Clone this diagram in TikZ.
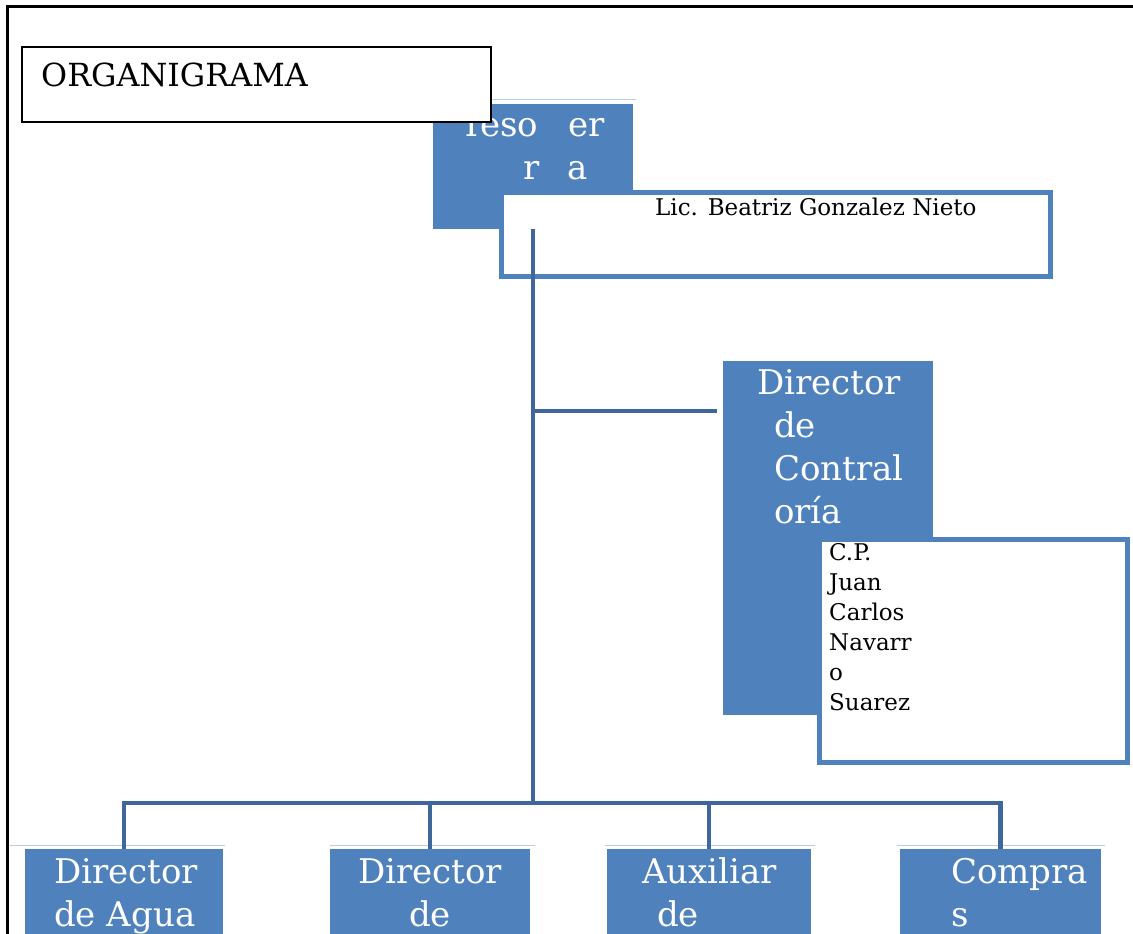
\documentclass[tikz,border=0pt]{standalone}
\usepackage{fontspec}
\setmainfont{DejaVu Serif}
\usetikzlibrary{positioning}
\definecolor{officeblue}{HTML}{4F81BD}
\definecolor{linkblue}{HTML}{3F679B}
\definecolor{rimblue}{HTML}{B8CCE4}
\begin{document}
\begin{tikzpicture}[x=1pt, y=-1pt,
  unit/.style={fill=officeblue, inner sep=0pt, anchor=north west},
  holder/.style={draw=officeblue, line width=4.5pt, fill=white, inner sep=0pt, anchor=north west},
  unitname/.style={text=white, inner sep=0pt, anchor=base west, align=left, font=\fontsize{34}{43}\selectfont},
  person/.style={inner sep=0pt, anchor=base west, align=left, font=\fontsize{23}{30}\selectfont},
  link/.style={draw=linkblue, line width=4.5pt},
  rim/.style={draw=rimblue, line width=1pt},
]
\useasboundingbox (0,0) rectangle (1133,934);
\clip (0,0) rectangle (1133,934);
\draw[line width=3pt] (7,7) rectangle (1150,950);

% tesoreria
\node[unit, minimum width=200pt, minimum height=125pt] (tes) at (433,104) {};
\draw[rim] ([yshift=5pt]tes.north west) -- ([yshift=5pt,xshift=3pt]tes.north east);
\node[unitname] (testext) at (460,179) {Teso\hspace{30pt}er\\\hspace*{63pt}r\hspace{28pt}a};
\node[holder, minimum width=549pt, minimum height=84pt] (lic) at (499,190) {};
\node[person] (lictext) at (655,215) {Lic. Beatriz Gonzalez Nieto};

% titulo
\node[draw, line width=2pt, fill=white, inner sep=0pt, anchor=north west, minimum width=469pt, minimum height=75pt] (title) at (21,46) {};
\node[inner sep=0pt, anchor=base west, font=\fontsize{31.8}{40}\selectfont] (titletext) at (41,86) {ORGANIGRAMA};

% contraloria
\node[unit, minimum width=210pt, minimum height=354pt] (ctrl) at (723,361) {};
\node[unitname] (ctrltext) at (774,523) {\hspace*{-17pt}Director\\de\\Contral\\oría};
\node[holder, minimum width=308pt, minimum height=223pt] (cp) at (817,537) {};
\node[person] (cptext) at (829,710) {C.P.\\Juan\\Carlos\\Navarr\\o\\Suarez};

% direcciones
\node[unit, minimum width=198pt, minimum height=100pt] (agua) at (25,849) {};
\node[unit, minimum width=200pt, minimum height=100pt] (dirde) at (330,849) {};
\node[unit, minimum width=204pt, minimum height=100pt] (aux) at (607,849) {};
\node[unit, minimum width=201pt, minimum height=100pt] (compras) at (900,849) {};
\draw[rim] ([yshift=4pt,xshift=-15pt]agua.north west) -- ([yshift=4pt,xshift=2pt]agua.north east);
\draw[rim] ([yshift=4pt]dirde.north west) -- ([yshift=4pt,xshift=5pt]dirde.north east);
\draw[rim] ([yshift=4pt,xshift=-2pt]aux.north west) -- ([yshift=4pt,xshift=4pt]aux.north east);
\draw[rim] ([yshift=4pt,xshift=-3pt]compras.north west) -- ([yshift=4pt,xshift=4pt]compras.north east);
\node[unitname] (aguatext) at (54,926) {Director\\de Agua};
\node[unitname, align=center, anchor=base] (dirdetext) at (430,926) {Director\\de};
\node[unitname] (auxtext) at (642,926) {Auxiliar\\\hspace*{15pt}de};
\node[unitname] (comprastext) at (951,926) {Compra\\s};

% lineas
\coordinate (hub) at (533,803);
\coordinate (ctrlin) at (717,411);
\draw[link] (tes.south -| hub) -- (hub);
\draw[link] (ctrlin -| hub) -- (ctrlin);
\draw[link] (hub) -| (agua.north);
\draw[link] (hub) -| (dirde.north);
\draw[link] (hub) -| (aux.north);
\draw[link] (hub) -| (compras.north);
\end{tikzpicture}
\end{document}
